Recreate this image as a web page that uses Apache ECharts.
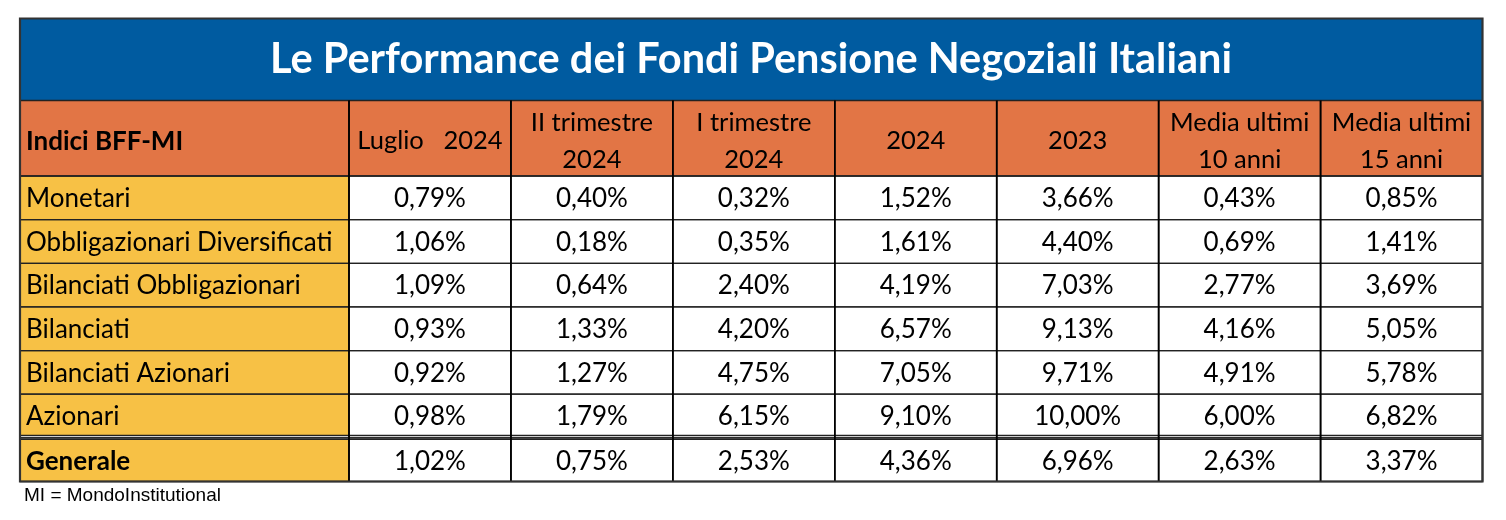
<!DOCTYPE html>
<html>
<head>
<meta charset="utf-8">
<script src="https://cdn.jsdelivr.net/npm/echarts@6/dist/echarts.min.js"></script>
<style>
html,body{margin:0;padding:0;background:#fff;}
#chart{width:1506px;height:520px;}
</style>
</head>
<body>
<div id="chart"></div>
<script>
// ---- data ----
const titleText = 'Le Performance dei Fondi Pensione Negoziali Italiani';
const headerLabel = 'Indici BFF-MI';
const columns = ['Luglio   2024', 'II trimestre\n2024', 'I trimestre\n2024', '2024', '2023', 'Media ultimi\n10 anni', 'Media ultimi\n15 anni'];
const rowLabels = ['Monetari', 'Obbligazionari Diversificati', 'Bilanciati Obbligazionari', 'Bilanciati', 'Bilanciati Azionari', 'Azionari', 'Generale'];
const monetari = [0.79, 0.40, 0.32, 1.52, 3.66, 0.43, 0.85];
const obbligazionariDiversificati = [1.06, 0.18, 0.35, 1.61, 4.40, 0.69, 1.41];
const bilanciatiObbligazionari = [1.09, 0.64, 2.40, 4.19, 7.03, 2.77, 3.69];
const bilanciati = [0.93, 1.33, 4.20, 6.57, 9.13, 4.16, 5.05];
const bilanciatiAzionari = [0.92, 1.27, 4.75, 7.05, 9.71, 4.91, 5.78];
const azionari = [0.98, 1.79, 6.15, 9.10, 10.00, 6.00, 6.82];
const generale = [1.02, 0.75, 2.53, 4.36, 6.96, 2.63, 3.37];
const footnote = 'MI = MondoInstitutional';

const rowValues = [monetari, obbligazionariDiversificati, bilanciatiObbligazionari, bilanciati, bilanciatiAzionari, azionari, generale];
const boldRow = 'Generale';

// ---- styles ----
const FONT = 'Lato, "Open Sans", sans-serif';
const BLUE = '#005BA0';
const ORANGE = '#E27545';
const YELLOW = '#F7C145';
const CELL_FONT = 26;
const HEAD_FONT = 25.5;

function fmt(v) { return v.toFixed(2).replace('.', ',') + '%'; }

function cellFrame(x, y, w, h, fill, isLast) {
  const kids = [
    { type: 'rect', shape: { x: x, y: y, width: w, height: h }, style: { fill: fill }, z2: 0 },
    { type: 'line', shape: { x1: x, y1: y, x2: x, y2: y + h }, style: { stroke: '#000', lineWidth: 1.6 }, z2: 5 },
    { type: 'line', shape: { x1: x + w, y1: y, x2: x + w, y2: y + h }, style: { stroke: '#000', lineWidth: 1.6 }, z2: 5 },
    { type: 'line', shape: { x1: x, y1: y, x2: x + w, y2: y }, style: { stroke: '#222', lineWidth: 1.3 }, z2: 4 },
    { type: 'line', shape: { x1: x, y1: y + h, x2: x + w, y2: y + h }, style: { stroke: '#222', lineWidth: 1.3 }, z2: 4 }
  ];
  if (isLast) {
    kids.push({ type: 'rect', shape: { x: x, y: y - 2.5, width: w, height: 4 }, style: { fill: '#cfcfcf' }, z2: 3 });
    kids.push({ type: 'line', shape: { x1: x, y1: y - 2.5, x2: x + w, y2: y - 2.5 }, style: { stroke: '#222', lineWidth: 1.3 }, z2: 4 });
    kids.push({ type: 'line', shape: { x1: x, y1: y + 1.5, x2: x + w, y2: y + 1.5 }, style: { stroke: '#222', lineWidth: 1.3 }, z2: 4 });
  }
  return kids;
}

function geom(api) {
  const c = api.coord([api.value(0), api.value(1)]);
  const s = api.size([1, 1]);
  return { x: c[0] - s[0] / 2, y: c[1] - s[1] / 2, w: s[0], h: s[1], cx: c[0], cy: c[1] };
}

const option = {
  animation: false,
  backgroundColor: '#fff',
  title: [
    {
      text: titleText, left: 751, top: 60, textAlign: 'center', textVerticalAlign: 'middle', padding: 0,
      textStyle: { color: '#fff', fontSize: 41.5, fontWeight: 'bold', fontFamily: FONT }
    },
    {
      text: footnote, left: 24, top: 486, padding: 0,
      textStyle: { color: '#000', fontSize: 19, fontWeight: 'normal', fontFamily: '"Liberation Sans", sans-serif' }
    }
  ],
  graphic: [
    { type: 'rect', shape: { x: 20, y: 18.5, width: 1462.5, height: 82 }, style: { fill: BLUE }, z: -1 },
    { type: 'rect', shape: { x: 20, y: 18.5, width: 1462.5, height: 463 }, style: { fill: null, stroke: '#333', lineWidth: 2.2 }, z: 100 }
  ],
  grid: [
    { left: 20, top: 100.5, width: 329, height: 75.5 },
    { left: 349, top: 100.5, width: 1133.5, height: 75.5 },
    { left: 20, top: 176, width: 329, height: 305.5 },
    { left: 349, top: 176, width: 1133.5, height: 305.5 }
  ],
  xAxis: [
    { gridIndex: 0, type: 'category', data: [headerLabel], show: false },
    { gridIndex: 1, type: 'category', data: columns, show: false },
    { gridIndex: 2, type: 'category', data: [headerLabel], show: false },
    { gridIndex: 3, type: 'category', data: columns, show: false }
  ],
  yAxis: [
    { gridIndex: 0, type: 'category', data: ['h'], show: false },
    { gridIndex: 1, type: 'category', data: ['h'], show: false },
    { gridIndex: 2, type: 'category', data: rowLabels, inverse: true, show: false },
    { gridIndex: 3, type: 'category', data: rowLabels, inverse: true, show: false }
  ],
  series: [
    {
      type: 'custom', xAxisIndex: 0, yAxisIndex: 0, data: [[0, 0]],
      renderItem: function (params, api) {
        const g = geom(api);
        const kids = cellFrame(g.x, g.y, g.w, g.h, ORANGE, false);
        kids.push({ type: 'text', z2: 10, style: { text: headerLabel, x: g.x + 6, y: g.cy + 3, textAlign: 'left', textVerticalAlign: 'middle', font: 'bold ' + CELL_FONT + 'px ' + FONT, fill: '#000' } });
        return { type: 'group', children: kids };
      }
    },
    {
      type: 'custom', xAxisIndex: 1, yAxisIndex: 1, data: columns.map(function (c, i) { return [i, 0]; }),
      renderItem: function (params, api) {
        const g = geom(api);
        const kids = cellFrame(g.x, g.y, g.w, g.h, ORANGE, false);
        kids.push({ type: 'text', z2: 10, style: { text: columns[params.dataIndex], x: g.cx, y: g.cy + 3, textAlign: 'center', textVerticalAlign: 'middle', font: HEAD_FONT + 'px ' + FONT, lineHeight: 37, fill: '#000' } });
        return { type: 'group', children: kids };
      }
    },
    {
      type: 'custom', xAxisIndex: 2, yAxisIndex: 2, data: rowLabels.map(function (r, i) { return [0, i]; }),
      renderItem: function (params, api) {
        const g = geom(api);
        const name = rowLabels[params.dataIndex];
        const last = name === boldRow;
        const kids = cellFrame(g.x, g.y, g.w, g.h, YELLOW, last);
        kids.push({ type: 'text', z2: 10, style: { text: name, x: g.x + 6, y: g.cy + (last ? 2 : 1), textAlign: 'left', textVerticalAlign: 'middle', font: (last ? 'bold ' : '') + CELL_FONT + 'px ' + FONT, fill: '#000' } });
        return { type: 'group', children: kids };
      }
    },
    {
      type: 'custom', xAxisIndex: 3, yAxisIndex: 3,
      data: (function () {
        const out = [];
        rowValues.forEach(function (vals, r) { vals.forEach(function (v, c) { out.push([c, r, v]); }); });
        return out;
      })(),
      renderItem: function (params, api) {
        const g = geom(api);
        const r = api.value(1);
        const last = rowLabels[r] === boldRow;
        const kids = cellFrame(g.x, g.y, g.w, g.h, '#fff', last);
        kids.push({ type: 'text', z2: 10, style: { text: fmt(api.value(2)), x: g.cx, y: g.cy + (last ? 2 : 1), textAlign: 'center', textVerticalAlign: 'middle', font: CELL_FONT + 'px ' + FONT, fill: '#000' } });
        return { type: 'group', children: kids };
      }
    }
  ]
};

const chart = echarts.init(document.getElementById('chart'), null, { renderer: 'canvas' });
chart.setOption(option);
</script>
</body>
</html>
